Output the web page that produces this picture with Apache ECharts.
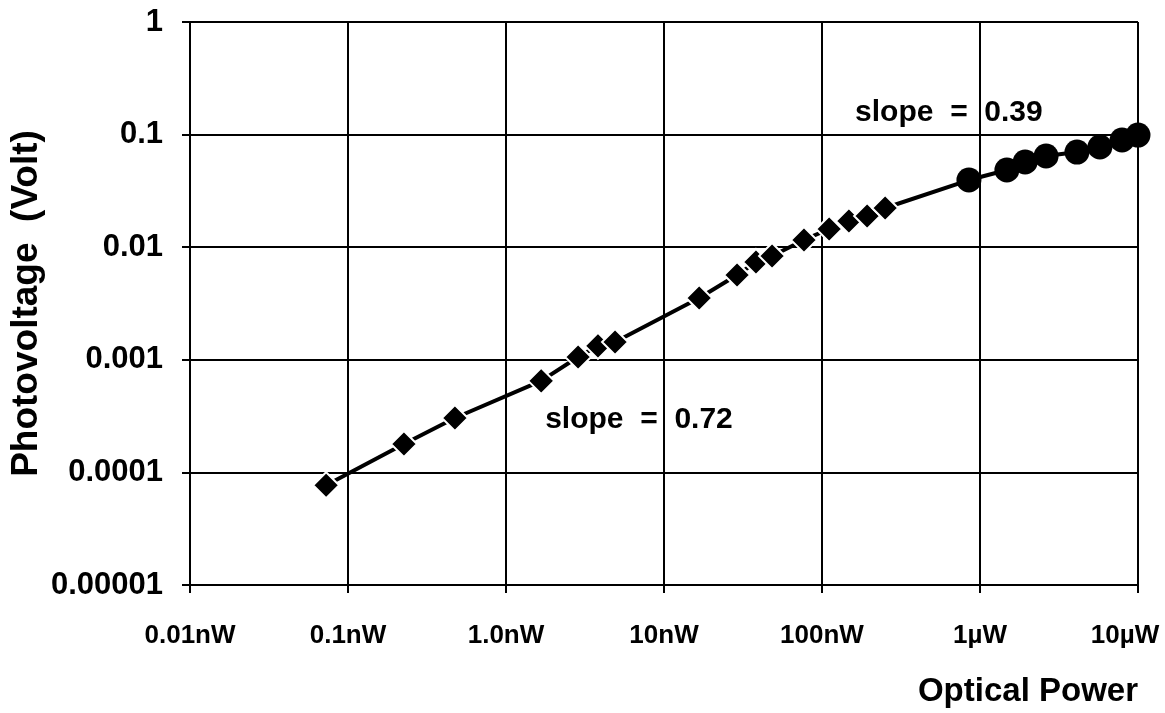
<!DOCTYPE html>
<html>
<head>
<meta charset="utf-8">
<script src="https://cdn.jsdelivr.net/npm/echarts@6/dist/echarts.min.js"></script>
<style>
  html, body { margin: 0; padding: 0; background: #ffffff; }
  #chart { width: 1165px; height: 713px; }
</style>
</head>
<body>
<div id="chart"></div>
<script>
// Optical power in nW, photovoltage in volts
const lowPower = [0.0727, 0.226, 0.475, 1.67, 2.86, 3.82, 4.90, 16.7, 29.0, 38.2, 48.3, 76.9, 111, 148, 193, 251];
const lowVoltage = [7.7e-5, 1.79e-4, 3.04e-4, 6.5e-4, 1.06e-3, 1.33e-3, 1.44e-3, 3.54e-3, 5.66e-3, 7.39e-3, 8.35e-3, 1.16e-2, 1.45e-2, 1.71e-2, 1.89e-2, 2.23e-2];
const highPower = [851, 1480, 1930, 2620, 4110, 5740, 7930, 10000];
const highVoltage = [0.0395, 0.0485, 0.0571, 0.0646, 0.070, 0.0776, 0.0895, 0.099];

// Decade tick labels, from the lowest decade upward
const xTickLabels = ['0.01nW', '0.1nW', '1.0nW', '10nW', '100nW', '1\u00b5W', '10\u00b5W'];
const yTickLabels = ['0.00001', '0.0001', '0.001', '0.01', '0.1', '1'];

// Slope annotations: [power, voltage, text]
const slopeNotes = [
  [1.77, 2.92e-4, 'slope  =  0.72'],
  [162, 0.1556, 'slope  =  0.39']
];

const FONT = '"Liberation Sans", Arial, Helvetica, sans-serif';

const lowPts = lowPower.map((p, i) => [p, lowVoltage[i]]);
const highPts = highPower.map((p, i) => [p, highVoltage[i]]);
const allPts = lowPts.concat(highPts);

const chart = echarts.init(document.getElementById('chart'), null, { renderer: 'canvas' });

chart.setOption({
  backgroundColor: '#ffffff',
  animation: false,
  title: {
    text: 'Optical Power',
    right: 22,
    top: 670,
    textStyle: { fontFamily: FONT, fontSize: 33, fontWeight: 'bold', color: '#000' }
  },
  grid: { left: 190, right: 27, top: 22, bottom: 128, containLabel: false, outerBoundsMode: 'none' },
  xAxis: {
    type: 'log',
    logBase: 10,
    min: 0.01,
    max: 10000,
    splitNumber: 6,
    axisLine: { lineStyle: { color: '#000', width: 2 } },
    axisTick: { show: true, length: 8, lineStyle: { color: '#000', width: 2 } },
    splitLine: { show: true, lineStyle: { color: '#000', width: 2 } },
    axisLabel: {
      margin: 38,
      fontFamily: FONT,
      fontSize: 26,
      fontWeight: 'bold',
      color: '#000',
      formatter: v => {
        const i = Math.round(Math.log10(v)) + 2;
        const t = xTickLabels[i] || '';
        // keep the last label inside the canvas
        return i === xTickLabels.length - 1 ? '{edge|' + t + '}' : t;
      },
      rich: {
        edge: { fontFamily: FONT, fontSize: 26, fontWeight: 'bold', color: '#000', padding: [0, 26, 0, 0] }
      }
    }
  },
  yAxis: {
    type: 'log',
    logBase: 10,
    min: 1e-5,
    max: 1,
    splitNumber: 5,
    name: 'Photovoltage  (Volt)',
    nameLocation: 'middle',
    nameGap: 145,
    nameMoveOverlap: false,
    nameTextStyle: { fontFamily: FONT, fontSize: 37, fontWeight: 'bold', color: '#000' },
    axisLine: { lineStyle: { color: '#000', width: 2 } },
    axisTick: { show: true, length: 8, lineStyle: { color: '#000', width: 2 } },
    splitLine: { show: true, lineStyle: { color: '#000', width: 2 } },
    axisLabel: {
      margin: 27,
      fontFamily: FONT,
      fontSize: 31,
      fontWeight: 'bold',
      color: '#000',
      formatter: v => yTickLabels[Math.round(Math.log10(v)) + 5] || ''
    }
  },
  series: [
    {
      name: 'trace',
      type: 'line',
      data: allPts,
      symbol: 'none',
      lineStyle: { color: '#000', width: 4 },
      z: 2
    },
    {
      name: 'low',
      type: 'scatter',
      data: lowPts,
      symbol: 'diamond',
      symbolSize: 26,
      itemStyle: { color: '#000', opacity: 1, borderColor: '#fff', borderWidth: 2 },
      z: 3
    },
    {
      name: 'high',
      type: 'scatter',
      data: highPts,
      symbol: 'circle',
      symbolSize: 25,
      itemStyle: { color: '#000', opacity: 1 },
      z: 3
    },
    {
      name: 'notes',
      type: 'scatter',
      data: slopeNotes.map(n => ({ value: [n[0], n[1]], text: n[2] })),
      symbolSize: 0,
      itemStyle: { opacity: 1 },
      label: {
        show: true,
        position: 'right',
        distance: 0,
        fontFamily: FONT,
        fontSize: 30,
        fontWeight: 'bold',
        color: '#000',
        formatter: p => p.data.text
      },
      z: 4
    }
  ]
});
</script>
</body>
</html>
